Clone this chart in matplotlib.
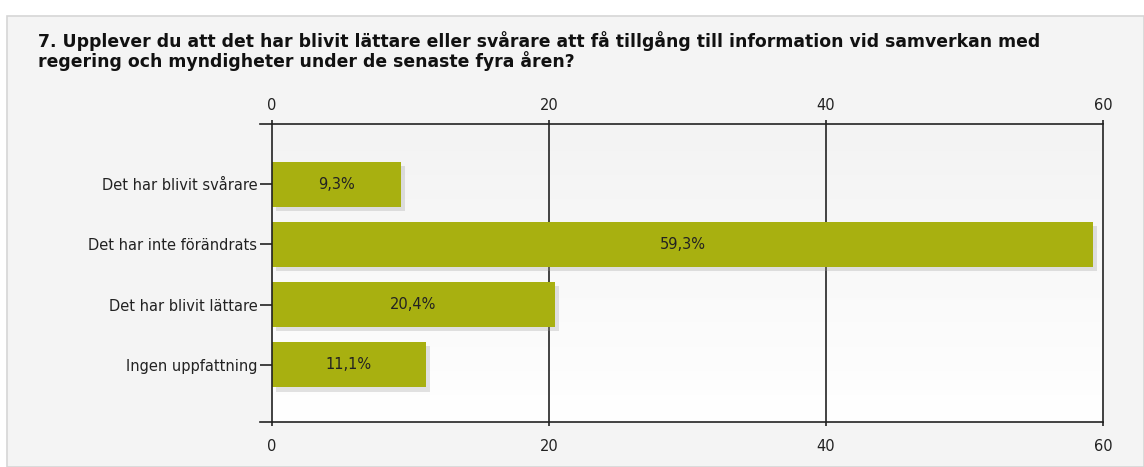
import numpy as np
import matplotlib
matplotlib.use("Agg")
import matplotlib.pyplot as plt
import matplotlib.patheffects as pe
from matplotlib.patches import Rectangle

title = ("7. Upplever du att det har blivit lättare eller svårare att få tillgång till information vid samverkan med\n"
         "regering och myndigheter under de senaste fyra åren?")
categories = ["Det har blivit svårare", "Det har inte förändrats",
              "Det har blivit lättare", "Ingen uppfattning"]
values = [9.3, 59.3, 20.4, 11.1]
xticks = [0, 20, 40, 60]

plt.rcParams["font.family"] = ["DejaVu Sans"]

fig = plt.figure(figsize=(11.44, 4.67), dpi=100)
fig.patch.set_facecolor("white")
# panel behind the chart
fig.patches.append(Rectangle((7 / 1144, 0), 1 - 7 / 1144, 1 - 16 / 467,
                             transform=fig.transFigure, facecolor="#f4f4f4",
                             edgecolor="#d6d6d6", lw=1.2, zorder=-5))
fig.text(38 / 1144, 1 - 31 / 467, title, fontsize=12.4, fontweight="bold",
         va="top", ha="left", color="#111111", linespacing=0.98)

ax = fig.add_axes([272 / 1144, 1 - 422 / 467, (1103 - 272) / 1144, (422 - 124) / 467])
ax.set_xlim(0, 60)
ax.set_ylim(3.95, -1.0)

# gradient background
grad = np.linspace(0, 1, 100).reshape(-1, 1)
ax.imshow(grad, extent=[0, 1, 0, 1], transform=ax.transAxes, aspect="auto",
          cmap=matplotlib.colors.LinearSegmentedColormap.from_list("g", ["white", "#f3f3f3"]),
          origin="lower", zorder=0)

for x in xticks[1:-1]:
    ax.axvline(x, color="#111111", lw=1.1, zorder=1)

y = np.arange(len(categories))
bars = ax.barh(y, values, height=0.75, color="#a8b010", zorder=2)
for b in bars:
    b.set_path_effects([pe.SimplePatchShadow(offset=(3, -3), shadow_rgbFace="#999999", alpha=0.28),
                        pe.Normal()])
for yi, v in zip(y, values):
    ax.text(v / 2, yi, f"{v:.1f}".replace(".", ",") + "%", ha="center", va="center",
            fontsize=10.5, color="#222222", zorder=3)

ax.set_yticks(y)
ax.set_yticklabels(categories, fontsize=10.5, color="#222222")
ax.tick_params(axis="y", length=9, width=1.2, color="#222222", pad=1.5)
ax.set_xticks(xticks)
ax.tick_params(axis="x", length=3, width=1.2, color="#222222", labelsize=10.5, pad=9,
               labelcolor="#222222")
top = ax.secondary_xaxis("top")
top.set_xticks(xticks)
top.tick_params(length=3, width=1.2, color="#222222", labelsize=10.5, pad=5,
                labelcolor="#222222")
top.spines["top"].set_visible(False)
for s in ax.spines.values():
    s.set_color("#222222")
    s.set_linewidth(1.2)

# short extensions of top and bottom lines to the left
for yy in (0, 1):
    ax.plot([-0.015, 0], [yy, yy], transform=ax.transAxes, color="#222222",
            lw=1.2, clip_on=False)

fig.savefig("out.png", dpi=100)
